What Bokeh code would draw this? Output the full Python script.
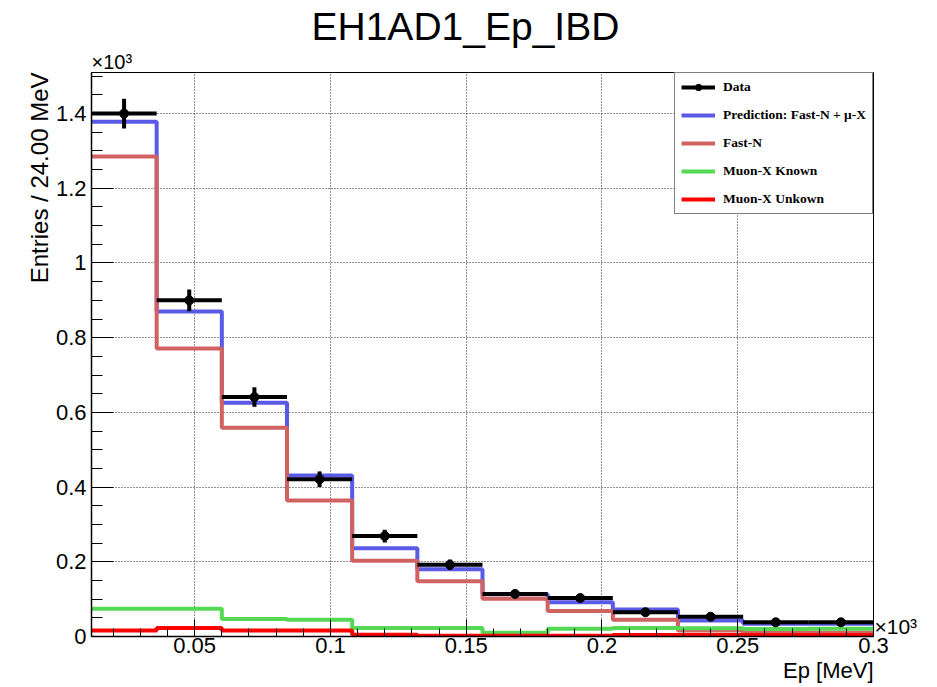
import numpy as np
from bokeh.plotting import figure
from bokeh.models import (Range1d, FixedTicker, CustomJSTickFormatter,
                          Legend, LegendItem, Title, LinearAxis)
from bokeh.embed import file_html
from bokeh.resources import INLINE

# ---- data (Ep in MeV, entries per 24 MeV bin) ----
bin_edges_mev = [12, 36, 60, 84, 108, 132, 156, 180, 204, 228, 252, 276, 300]
data_counts = [1400, 900, 641, 421, 269, 192, 114, 103, 65, 53, 38, 38]
data_errors = [40, 29, 26, 21, 17, 14, 11, 10, 8, 7, 6, 6]
prediction = [1378, 870, 626, 431, 236, 180, 113, 92, 72, 43, 34, 34]
fast_n = [1285, 771, 559, 364, 203, 148, 101, 68, 45, 16, 10, 10]
muonx_known = [74, 74, 47, 45, 23, 23, 10, 21, 23, 22, 20, 21]
muonx_unknown = [16, 23, 16, 16, 5, 2, 2, 2, 4, 4, 4, 4]

x_major_ticks = [0.05, 0.1, 0.15, 0.2, 0.25, 0.3]
x_minor_ticks = [0.02, 0.03, 0.04, 0.06, 0.07, 0.08, 0.09, 0.11, 0.12, 0.13, 0.14,
                 0.16, 0.17, 0.18, 0.19, 0.21, 0.22, 0.23, 0.24, 0.26, 0.27, 0.28, 0.29]
y_major_ticks = [0, 0.2, 0.4, 0.6, 0.8, 1.0, 1.2, 1.4]
y_minor_ticks = [0.05, 0.1, 0.15, 0.25, 0.3, 0.35, 0.45, 0.5, 0.55, 0.65, 0.7, 0.75,
                 0.85, 0.9, 0.95, 1.05, 1.1, 1.15, 1.25, 1.3, 1.35, 1.45, 1.5]

SCALE = 1000.0
edges = np.array(bin_edges_mev, dtype=float) / SCALE
centers = (edges[:-1] + edges[1:]) / 2

def stepy(vals):
    v = np.array(vals, dtype=float) / SCALE
    return np.append(v, v[-1])

FONT = "Liberation Sans"

p = figure(width=937, height=687, output_backend="svg", toolbar_location=None,
           title=None,
           x_range=Range1d(edges[0], edges[-1]), y_range=Range1d(0, 1.51),
           min_border_left=91, min_border_right=64, min_border_top=72,
           min_border_bottom=51)
p.background_fill_color = "white"
p.border_fill_color = "white"
p.outline_line_color = "black"
p.outline_line_width = 1

fmt = CustomJSTickFormatter(code="return parseFloat(tick.toFixed(4)).toString();")
p.xaxis.ticker = FixedTicker(ticks=x_major_ticks, minor_ticks=x_minor_ticks)
p.yaxis.ticker = FixedTicker(ticks=y_major_ticks, minor_ticks=y_minor_ticks)
p.xaxis.formatter = fmt
p.yaxis.formatter = fmt
for ax in (p.xaxis, p.yaxis):
    ax.major_tick_out = 0
    ax.minor_tick_out = 0
    ax.axis_line_color = "black"
    ax.axis_line_width = 1.5
    ax.major_tick_line_color = "black"
    ax.minor_tick_line_color = "black"
    ax.major_label_text_font = FONT
    ax.major_label_text_font_size = "22px"
    ax.major_label_text_color = "black"
p.xaxis.major_tick_in = 17
p.xaxis.minor_tick_in = 8
p.yaxis.major_tick_in = 22
p.yaxis.minor_tick_in = 11
p.xaxis.major_label_standoff = 1
p.yaxis.major_label_standoff = 5

for g in (p.xgrid, p.ygrid):
    g.grid_line_color = "#222222"
    g.grid_line_dash = "1 2"
    g.grid_line_width = 1
p.xgrid.ticker = FixedTicker(ticks=x_major_ticks)
p.ygrid.ticker = FixedTicker(ticks=y_major_ticks)

# ---- histograms ----
r_pred = p.step(edges, stepy(prediction), mode="after", line_width=4, line_color="#5a5ae6")
r_fast = p.step(edges, stepy(fast_n), mode="after", line_width=4, line_color="#d06262")
r_known = p.step(edges, stepy(muonx_known), mode="after", line_width=4, line_color="#55d955")
r_unk = p.step(edges, stepy(muonx_unknown), mode="after", line_width=4, line_color="#ff0000")

# ---- data points ----
d = np.array(data_counts, dtype=float) / SCALE
de = np.array(data_errors, dtype=float) / SCALE
r_h = p.segment(x0=edges[:-1], x1=edges[1:], y0=d, y1=d, line_width=4, line_color="black")
r_v = p.segment(x0=centers, x1=centers, y0=d - de, y1=d + de, line_width=4, line_color="black")
r_pt = p.scatter(centers, d, size=9, color="black")

legend = Legend(items=[
    LegendItem(label="Data", renderers=[r_h, r_pt]),
    LegendItem(label="Prediction: Fast-N + \u03bc-X", renderers=[r_pred]),
    LegendItem(label="Fast-N", renderers=[r_fast]),
    LegendItem(label="Muon-X Known", renderers=[r_known]),
    LegendItem(label="Muon-X Unkown", renderers=[r_unk]),
], location="top_right")
legend.margin = 0
legend.padding = 6
legend.spacing = 12
legend.glyph_width = 34
legend.glyph_height = 16
legend.label_height = 16
legend.label_standoff = 8
legend.border_line_color = "black"
legend.border_line_width = 1
legend.background_fill_color = "white"
legend.background_fill_alpha = 1
legend.label_text_font = "Liberation Serif"
legend.label_text_font_style = "bold"
legend.label_text_font_size = "13.5px"
legend.label_text_color = "black"
p.add_layout(legend)

# ---- titles / axis titles ----
p.add_layout(Title(text="\u00d710\u00b3", align="left", text_font=FONT,
                   text_font_size="20px", text_font_style="normal",
                   text_color="black", standoff=0), "above")
p.add_layout(Title(text="EH1AD1_Ep_IBD", align="left", text_font=FONT,
                   text_font_size="39px", text_font_style="normal",
                   text_color="black", standoff=2, offset=220), "above")
p.add_layout(Title(text="Entries / 24.00 MeV", align="right", text_font=FONT,
                   text_font_size="24px", text_font_style="normal",
                   text_color="black", standoff=0), "left")
p.add_layout(Title(text="Ep [MeV]", align="right", text_font=FONT,
                   text_font_size="22px", text_font_style="normal",
                   text_color="black", standoff=0), "below")

# x10^3 multiplier at the right end of the x axis
mult_axis = LinearAxis(ticker=FixedTicker(ticks=[0.027], minor_ticks=[]),
                       formatter=CustomJSTickFormatter(code="return '\u00d710\u00b3';"))
mult_axis.axis_line_color = None
mult_axis.major_tick_line_color = None
mult_axis.minor_tick_line_color = None
mult_axis.major_tick_out = 0
mult_axis.major_tick_in = 0
mult_axis.major_label_standoff = 1
mult_axis.major_label_text_font = FONT
mult_axis.major_label_text_font_size = "21px"
mult_axis.major_label_text_color = "black"
p.add_layout(mult_axis, "right")

open("out.html", "w").write(file_html(p, INLINE))
